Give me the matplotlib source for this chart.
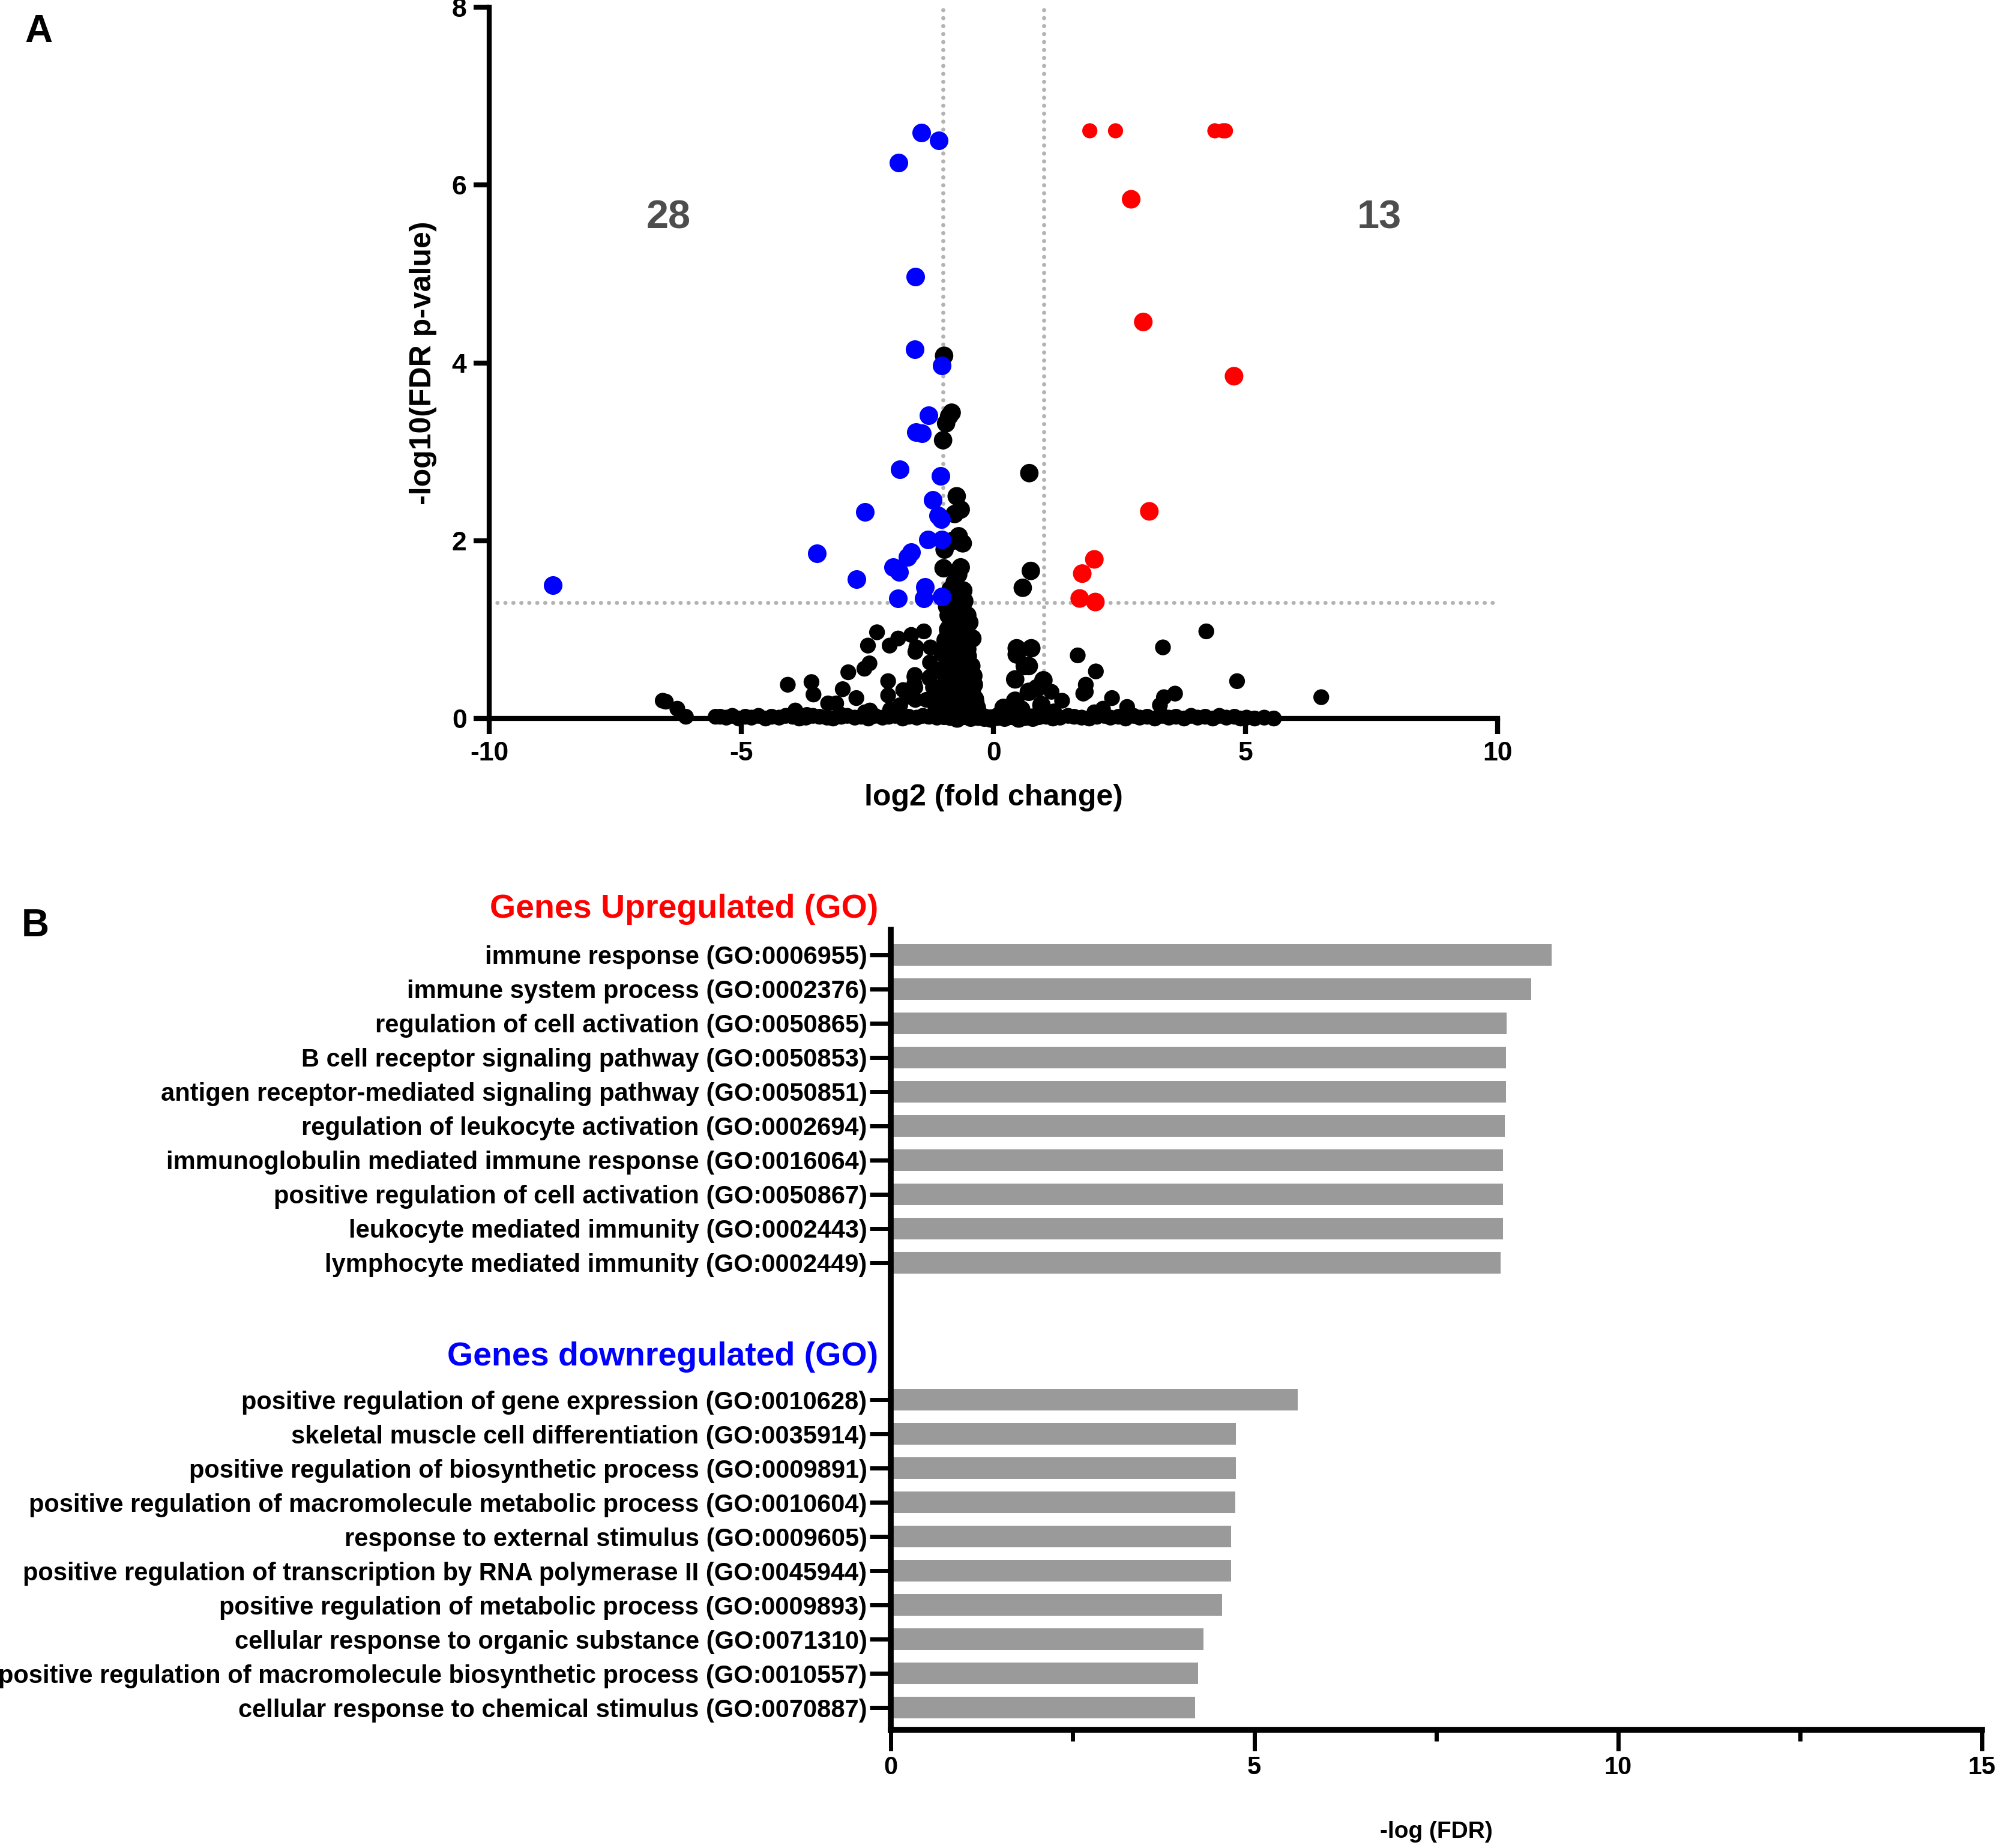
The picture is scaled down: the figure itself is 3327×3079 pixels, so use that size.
import numpy as np
import matplotlib
matplotlib.use("Agg")
import matplotlib.pyplot as plt
from matplotlib.ticker import MultipleLocator

plt.rcParams['font.family'] = ['Liberation Sans', 'DejaVu Sans']
plt.rcParams['font.weight'] = 'bold'
plt.rcParams['axes.labelweight'] = 'bold'
plt.rcParams['axes.unicode_minus'] = False

# ---------------- data: volcano plot (A) ----------------
# not significant genes (black)
ns_x = [-0.98, -0.83, -0.88, -0.94, -1.00, -0.73, -0.65, -0.77, -0.69, -0.61, -0.97, -0.80,
        -0.99, -0.65, -0.77, -0.60, -0.95, -0.58, -0.85, -0.70, 0.71, 0.74, 0.58,
        -0.89, -0.52, -0.70, -0.89, -0.55, -0.72, -0.87, -0.52, -0.68, -0.85, -0.44, -0.63,
        -0.85, -0.39, -0.60, -0.82, -0.37, -0.55, -0.95, -0.97, -0.92, -0.45, -0.65, -0.75,
        -0.50, -0.95, -0.62, -0.78, -0.75, -0.58, -0.80, -0.40, -0.33, -0.30,
        -0.92, -0.66, -0.48, -0.90, -0.74, -0.57, -0.42, -0.88, -0.69, -0.51, -0.93, -0.80,
        -0.62, -0.47, -0.86, -0.71, -0.54, -0.36, -0.90, -0.66, -0.43, -0.83, -0.60,
        -6.56, -6.50, -6.27, -6.10, -5.51, -4.08, -3.61, -3.57, -3.93, -3.28, -3.12, -2.99,
        -2.72, -2.88, -2.56, -2.46, -2.49, -2.31, -2.06, -1.89, -1.63, -1.38, -1.53, -2.09,
        -2.09, -1.79, -1.57, -1.57, -1.63, -1.26, -1.26, -1.55, -1.25, -1.56, -1.27, -1.55,
        -1.55, -1.33, -1.01, -1.01, -1.01, -2.05, -2.45, -2.55, -3.05, -3.70, -1.85, -1.15,
        -1.10, -1.20,
        0.46, 0.75, 0.46, 0.70, 0.62, 0.43, 0.99, 0.43, 0.70, 0.86, 1.15, 1.36, 1.67, 2.03,
        1.83, 1.83, 2.35, 2.65, 2.17, 2.00, 3.36, 4.22, 4.83, 6.50, 3.30, 3.38, 3.60, 0.55,
        0.95, 1.20, 0.30, 0.20, 1.78,
        -5.42, -5.30, -5.18, -5.05, -4.92, -4.80, -4.66, -4.52, -4.40, -4.25, -4.12, -3.98,
        -3.85, -3.72, -3.58, -3.45, -3.30, -3.18, -3.02, -2.90, -2.75, -2.62, -2.48, -2.35,
        -2.20, -2.08, -1.95, -1.80, -1.68, -1.52, -1.40, -1.28, -1.12, -0.98, -0.85, -0.72,
        -0.58, -0.45, -0.30, -0.18, -0.05,
        0.08, 0.22, 0.35, 0.50, 0.62, 0.78, 0.90, 1.05, 1.18, 1.32, 1.48, 1.60, 1.75, 1.90,
        2.05, 2.20, 2.32, 2.48, 2.62, 2.78, 2.90, 3.05, 3.20, 3.35, 3.48, 3.62, 3.78, 3.92,
        4.05, 4.20, 4.35, 4.48, 4.62, 4.78, 4.90, 5.02, 5.18, 5.37, 5.56]
ns_y = [4.08, 3.44, 3.40, 3.32, 3.13, 2.50, 2.35, 2.30, 2.05, 1.97, 1.90, 2.00,
        1.69, 1.70, 1.53, 1.44, 1.36, 1.32, 1.45, 1.62, 2.76, 1.66, 1.47,
        1.16, 1.16, 1.22, 0.98, 0.98, 1.05, 0.78, 0.78, 0.85, 0.59, 0.59, 0.66,
        0.38, 0.38, 0.45, 0.22, 0.22, 0.28, 0.50, 0.30, 0.12, 0.10, 0.15, 0.05,
        0.05, 0.88, 0.55, 0.42, 0.70, 0.92, 1.10, 0.48, 0.12, 0.04,
        1.26, 1.28, 1.08, 1.40, 1.35, 1.18, 0.90, 0.68, 0.95, 0.70, 0.20, 0.32,
        0.35, 0.25, 0.05, 0.58, 0.62, 0.18, 1.00, 0.10, 0.30, 0.48, 0.76,
        0.20, 0.19, 0.11, 0.02, 0.02, 0.38, 0.41, 0.27, 0.09, 0.17, 0.17, 0.33,
        0.23, 0.52, 0.56, 0.62, 0.82, 0.97, 0.82, 0.90, 0.94, 0.98, 0.80, 0.42,
        0.26, 0.32, 0.47, 0.39, 0.24, 0.63, 0.47, 0.75, 0.80, 0.49, 0.45, 0.35,
        0.21, 0.21, 0.35, 0.55, 0.74, 0.10, 0.09, 0.07, 0.05, 0.04, 0.15, 0.12,
        0.25, 0.35,
        0.79, 0.79, 0.72, 0.59, 0.59, 0.44, 0.43, 0.20, 0.30, 0.34, 0.30, 0.20, 0.71, 0.53,
        0.38, 0.30, 0.23, 0.13, 0.11, 0.07, 0.80, 0.98, 0.42, 0.24, 0.15, 0.24, 0.28, 0.10,
        0.15, 0.08, 0.05, 0.12, 0.28,
        0.02, 0.01, 0.03, 0.00, 0.02, 0.01, 0.03, 0.00, 0.02, 0.01, 0.03, 0.02,
        0.00, 0.01, 0.03, 0.02, 0.01, 0.00, 0.02, 0.03, 0.01, 0.02, 0.00, 0.03,
        0.01, 0.02, 0.03, 0.00, 0.02, 0.01, 0.03, 0.02, 0.01, 0.03, 0.02, 0.00,
        0.03, 0.01, 0.02, 0.01, 0.00,
        0.02, 0.01, 0.03, 0.00, 0.02, 0.01, 0.03, 0.02, 0.00, 0.01, 0.03, 0.02, 0.01, 0.00,
        0.02, 0.03, 0.01, 0.02, 0.00, 0.03, 0.01, 0.02, 0.00, 0.03, 0.01, 0.02, 0.00, 0.03,
        0.01, 0.02, 0.00, 0.03, 0.01, 0.02, 0.00, 0.01, 0.00, 0.01, 0.00]

# downregulated genes (blue)
down_x = [-1.43, -1.09, -1.88, -1.55, -1.56, -1.03, -1.29, -1.54, -1.42, -1.86, -1.05, -1.20,
          -2.55, -1.04, -1.10, -1.02, -1.30, -1.63, -1.71, -3.50, -1.99, -1.87, -2.72, -1.36,
          -1.89, -1.38, -1.03, -8.74]
down_y = [6.59, 6.50, 6.25, 4.97, 4.15, 3.97, 3.41, 3.22, 3.21, 2.80, 2.73, 2.46,
          2.32, 2.24, 2.28, 2.01, 2.01, 1.87, 1.82, 1.86, 1.70, 1.65, 1.57, 1.48,
          1.35, 1.35, 1.37, 1.50]

# upregulated genes (red)
up_x = [1.91, 2.42, 4.39, 4.55, 4.60, 2.73, 2.97, 4.77, 3.09, 2.00, 1.76, 1.71, 2.02]
up_y = [6.61, 6.61, 6.61, 6.61, 6.61, 5.84, 4.46, 3.85, 2.33, 1.79, 1.63, 1.35, 1.31]

n_down = 28
n_up = 13

# ---------------- data: GO enrichment (B) ----------------
up_terms = ["immune response (GO:0006955)",
            "immune system process (GO:0002376)",
            "regulation of cell activation (GO:0050865)",
            "B cell receptor signaling pathway (GO:0050853)",
            "antigen receptor-mediated signaling pathway (GO:0050851)",
            "regulation of leukocyte activation (GO:0002694)",
            "immunoglobulin mediated immune response (GO:0016064)",
            "positive regulation of cell activation (GO:0050867)",
            "leukocyte mediated immunity (GO:0002443)",
            "lymphocyte mediated immunity (GO:0002449)"]
up_fdr = [9.09, 8.81, 8.47, 8.46, 8.46, 8.44, 8.42, 8.42, 8.42, 8.39]

down_terms = ["positive regulation of gene expression (GO:0010628)",
              "skeletal muscle cell differentiation (GO:0035914)",
              "positive regulation of biosynthetic process (GO:0009891)",
              "positive regulation of macromolecule metabolic process (GO:0010604)",
              "response to external stimulus (GO:0009605)",
              "positive regulation of transcription by RNA polymerase II (GO:0045944)",
              "positive regulation of metabolic process (GO:0009893)",
              "cellular response to organic substance (GO:0071310)",
              "positive regulation of macromolecule biosynthetic process (GO:0010557)",
              "cellular response to chemical stimulus (GO:0070887)"]
down_fdr = [5.60, 4.75, 4.75, 4.74, 4.68, 4.68, 4.56, 4.30, 4.23, 4.19]

fig = plt.figure(figsize=(33.27, 30.79), dpi=100)

# ================= panel A =================
ax1 = fig.add_axes([0.245, 0.6112, 0.505, 0.3849])
nx = np.array(ns_x)
ny = np.array(ns_y)
ns_size = np.where((ny >= 1.0) | (np.abs(nx) < 1.05), 490, 360)
ax1.scatter(nx, ny, s=ns_size, color='black', linewidths=0, clip_on=False, zorder=3)
ax1.scatter(down_x, down_y, s=500, color='#0000ff', linewidths=0, clip_on=False, zorder=4)
uy = np.array(up_y)
ax1.scatter(up_x, up_y, s=np.where(uy > 6.5, 330, 500), color='#ff0000', linewidths=0,
            clip_on=False, zorder=4)

dot = dict(color='#b3b3b3', lw=5, linestyle=(0, (0.01, 1.9)), dash_capstyle='round', zorder=1)
ax1.axvline(-1, **dot)
ax1.axvline(1, **dot)
ax1.axhline(-np.log10(0.05), **dot)

ax1.text(-6.45, 5.63, str(n_down), fontsize=48, color='#4d4d4d', ha='center', va='center')
ax1.text(7.65, 5.63, str(n_up), fontsize=48, color='#4d4d4d', ha='center', va='center')

ax1.set_xlim(-10, 10)
ax1.set_ylim(0, 8)
ax1.set_xticks([-10, -5, 0, 5, 10])
ax1.set_yticks([0, 2, 4, 6, 8])
for s in ['top', 'right']:
    ax1.spines[s].set_visible(False)
for s in ['left', 'bottom']:
    ax1.spines[s].set_linewidth(6)
ax1.tick_params(length=19, width=6, labelsize=32, pad=8)
ax1.set_xlabel('log2 (fold change)', fontsize=36, labelpad=22)
ax1.set_ylabel('-log10(FDR p-value)', fontsize=36, labelpad=18)

# ================= panel B =================
ax2 = fig.add_axes([0.4459, 0.064, 0.5465, 0.4329])
pos_up = np.arange(len(up_terms))
pos_down = np.arange(len(down_terms)) + len(up_terms) + 3
ax2.barh(pos_up, up_fdr, height=0.63, color='#9a9a9a', zorder=2)
ax2.barh(pos_down, down_fdr, height=0.63, color='#9a9a9a', zorder=2)
ax2.set_yticks(np.concatenate([pos_up, pos_down]))
ax2.set_yticklabels(up_terms + down_terms)
ax2.set_ylim(22.64, -0.73)
ax2.set_xlim(0, 15)
ax2.xaxis.set_major_locator(MultipleLocator(5))
ax2.xaxis.set_minor_locator(MultipleLocator(2.5))
for s in ['top', 'right']:
    ax2.spines[s].set_visible(False)
for s in ['left', 'bottom']:
    ax2.spines[s].set_linewidth(7)
ax2.tick_params(axis='y', length=25, width=5, labelsize=30, pad=3)
ax2.tick_params(axis='x', which='major', length=25, width=5, labelsize=30, pad=6)
ax2.tick_params(axis='x', which='minor', length=14, width=5)
ax2.set_xlabel('-log (FDR)', fontsize=28, labelpad=50)

tr = ax2.get_yaxis_transform()
ax2.text(-0.011, -1.33, 'Genes Upregulated (GO)', transform=tr, color='#ff0000',
         fontsize=40, ha='right', va='center')
ax2.text(-0.011, 11.75, 'Genes downregulated (GO)', transform=tr, color='#0000ff',
         fontsize=40, ha='right', va='center')

fig.text(64 / 3327, 1 - 53 / 3079, 'A', fontsize=46, ha='center', va='center')
fig.text(59 / 3327, 1 - 1543 / 3079, 'B', fontsize=46, ha='center', va='center')

fig.savefig('out.png', dpi=100)
